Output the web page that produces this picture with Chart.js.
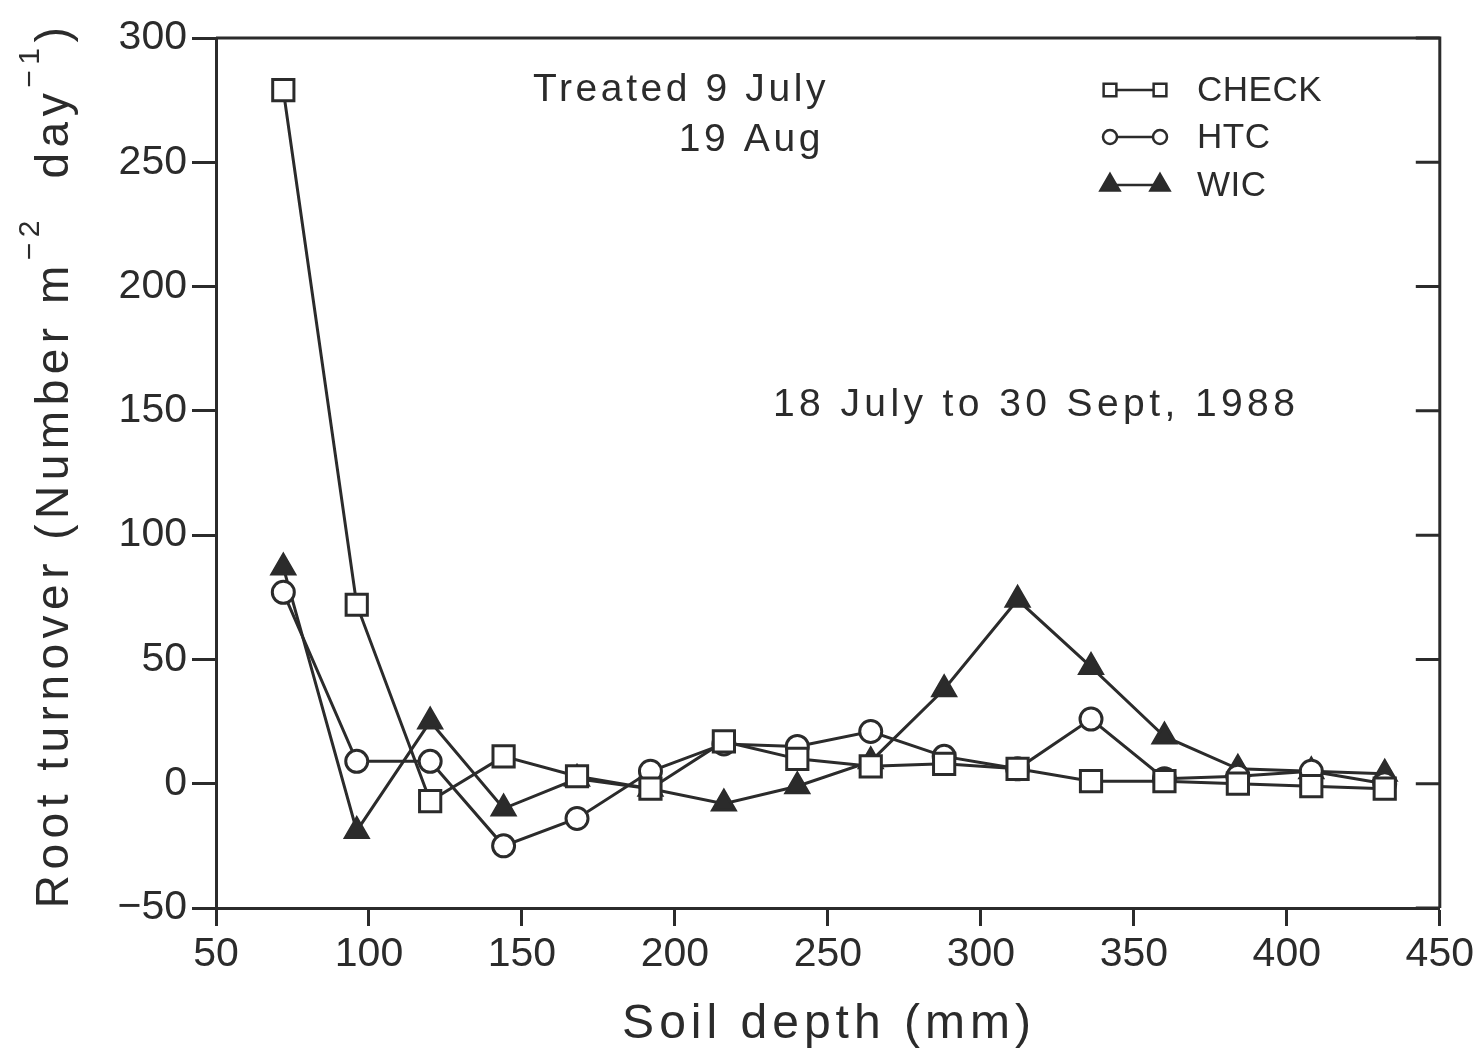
<!DOCTYPE html>
<html>
<head>
<meta charset="utf-8">
<script src="https://cdn.jsdelivr.net/npm/chart.js@4/dist/chart.umd.min.js"></script>
<style>
  html, body { margin: 0; padding: 0; background: #fff; }
  #wrap { width: 1478px; height: 1058px; position: relative; }
</style>
</head>
<body>
<div id="wrap"><canvas id="chart"></canvas></div>
<script>
// soil depth (mm) of each sampling layer
const depths = [72, 96, 120, 144, 168, 192, 216, 240, 264, 288, 312, 336, 360, 384, 408, 432];

// root turnover (number m-2 day-1)
const checkVals = [279, 72, -7, 11, 3, -2, 17, 10, 7, 8, 6, 1, 1, 0, -1, -2];
const htcVals   = [77, 9, 9, -25, -14, 5, 16, 15, 21, 11, 6, 26, 2, 3, 5, 0];
const wicVals   = [87, -19, 25, -10, 2, -2, -8, -1, 9, 38, 74, 47, 19, 6, 5, 4];

const seriesNames = ['CHECK', 'HTC', 'WIC'];
const xTicks = [50, 100, 150, 200, 250, 300, 350, 400, 450];
const yTicks = [-50, 0, 50, 100, 150, 200, 250, 300];

const INK = '#2b2b2b';
const FONT = '"Liberation Sans", Arial, sans-serif';

const toPoints = vals => vals.map((v, i) => ({ x: depths[i], y: v }));

const datasets = [
  {
    label: seriesNames[0], data: toPoints(checkVals),
    pointStyle: 'rect', pointRadius: 15, backgroundColor: '#fff',
  },
  {
    label: seriesNames[1], data: toPoints(htcVals),
    pointStyle: 'circle', pointRadius: 11, backgroundColor: '#fff',
  },
  {
    label: seriesNames[2], data: toPoints(wicVals),
    pointStyle: 'triangle', pointRadius: 13, backgroundColor: INK,
  },
].map(d => ({
  ...d,
  borderColor: INK,
  pointBorderColor: INK,
  pointBackgroundColor: d.backgroundColor,
  pointBorderWidth: 3,
  borderWidth: 3,
  tension: 0,
  fill: false,
}));

function spacedText(ctx, text, x, y, spacing) {
  ctx.letterSpacing = spacing + 'px';
  ctx.fillText(text, x, y);
  ctx.letterSpacing = '0px';
}

const decorations = {
  id: 'decorations',
  afterDraw(chart) {
    const { ctx, chartArea: a, scales } = chart;
    ctx.save();
    ctx.strokeStyle = INK;
    ctx.fillStyle = INK;
    ctx.lineWidth = 3;

    // top and right frame lines
    ctx.beginPath();
    ctx.moveTo(a.left, a.top);
    ctx.lineTo(a.right, a.top);
    ctx.lineTo(a.right, a.bottom);
    ctx.stroke();

    // inward ticks on the right axis
    ctx.beginPath();
    scales.y.ticks.forEach(t => {
      const py = scales.y.getPixelForValue(t.value);
      ctx.moveTo(a.right, py);
      ctx.lineTo(a.right - 24, py);
    });
    ctx.stroke();

    // annotations
    ctx.textBaseline = 'middle';
    ctx.font = '39px ' + FONT;
    ctx.textAlign = 'left';
    spacedText(ctx, 'Treated 9 July', 533, 90, 3.6);
    ctx.textAlign = 'right';
    spacedText(ctx, '19 Aug', 824, 140, 3.6);
    ctx.textAlign = 'left';
    spacedText(ctx, '18 July to 30 Sept, 1988', 773, 405, 4.4);

    // legend
    const rows = [90, 137, 185];
    ctx.font = '35px ' + FONT;
    chart.data.datasets.forEach((ds, i) => {
      const y = rows[i];
      ctx.lineWidth = 2.5;
      ctx.beginPath();
      ctx.moveTo(1110, y);
      ctx.lineTo(1160, y);
      ctx.stroke();
      const opts = {
        pointStyle: ds.pointStyle,
        radius: ds.pointStyle === 'rect' ? 9 : (ds.pointStyle === 'triangle' ? 11 : 7),
        rotation: 0,
        borderWidth: 2.5,
      };
      ctx.fillStyle = ds.pointBackgroundColor;
      ctx.strokeStyle = INK;
      ctx.lineWidth = 2.5;
      Chart.helpers.drawPoint(ctx, opts, 1110, y);
      Chart.helpers.drawPoint(ctx, opts, 1160, y);
      ctx.fillStyle = INK;
      ctx.textAlign = 'left';
      spacedText(ctx, ds.label, 1197, y + 1, 0.5);
    });

    // x axis title
    ctx.font = '48px ' + FONT;
    ctx.textAlign = 'center';
    spacedText(ctx, 'Soil depth (mm)', 829, 1025, 5);

    // y axis title with superscripts
    ctx.translate(55, 465);
    ctx.rotate(-Math.PI / 2);
    const big = '46px ' + FONT;
    const small = '30px ' + FONT;
    const parts = [
      { t: 'Root turnover (Number m', f: big, dy: 0 },
      { t: '\u22122', f: small, dy: -24 },
      { t: '  day', f: big, dy: 0 },
      { t: '\u22121', f: small, dy: -24 },
      { t: ')', f: big, dy: 0 },
    ];
    ctx.letterSpacing = '5.5px';
    let total = 0;
    parts.forEach(p => { ctx.font = p.f; p.w = ctx.measureText(p.t).width; total += p.w; });
    let x = -total / 2;
    ctx.textAlign = 'left';
    parts.forEach(p => {
      ctx.font = p.f;
      ctx.fillText(p.t, x, p.dy);
      x += p.w;
    });
    ctx.letterSpacing = '0px';
    ctx.restore();
  },
};

new Chart(document.getElementById('chart'), {
  type: 'line',
  data: { datasets },
  options: {
    responsive: true,
    maintainAspectRatio: false,
    animation: false,
    layout: { padding: { top: 38, right: 38, left: 0, bottom: 0 } },
    plugins: {
      legend: { display: false },
      tooltip: { enabled: false },
    },
    scales: {
      x: {
        type: 'linear',
        min: 50,
        max: 450,
        afterBuildTicks: s => { s.ticks = xTicks.map(v => ({ value: v })); },
        afterFit: s => { s.height = 150; },
        border: { display: true, color: INK, width: 3 },
        grid: { drawOnChartArea: false, color: INK, tickLength: 18, tickWidth: 3 },
        ticks: { color: INK, font: { family: FONT, size: 41 }, padding: 4, maxRotation: 0 },
      },
      y: {
        min: -50,
        max: 300,
        afterBuildTicks: s => { s.ticks = yTicks.map(v => ({ value: v })); },
        afterFit: s => { s.width = 216; },
        border: { display: true, color: INK, width: 3 },
        grid: { drawOnChartArea: false, color: INK, tickLength: 24, tickWidth: 3 },
        ticks: {
          color: INK,
          font: { family: FONT, size: 41 },
          padding: 5,
          callback: v => (v < 0 ? '\u2212' + Math.abs(v) : String(v)),
        },
      },
    },
  },
  plugins: [decorations],
});
</script>
</body>
</html>
